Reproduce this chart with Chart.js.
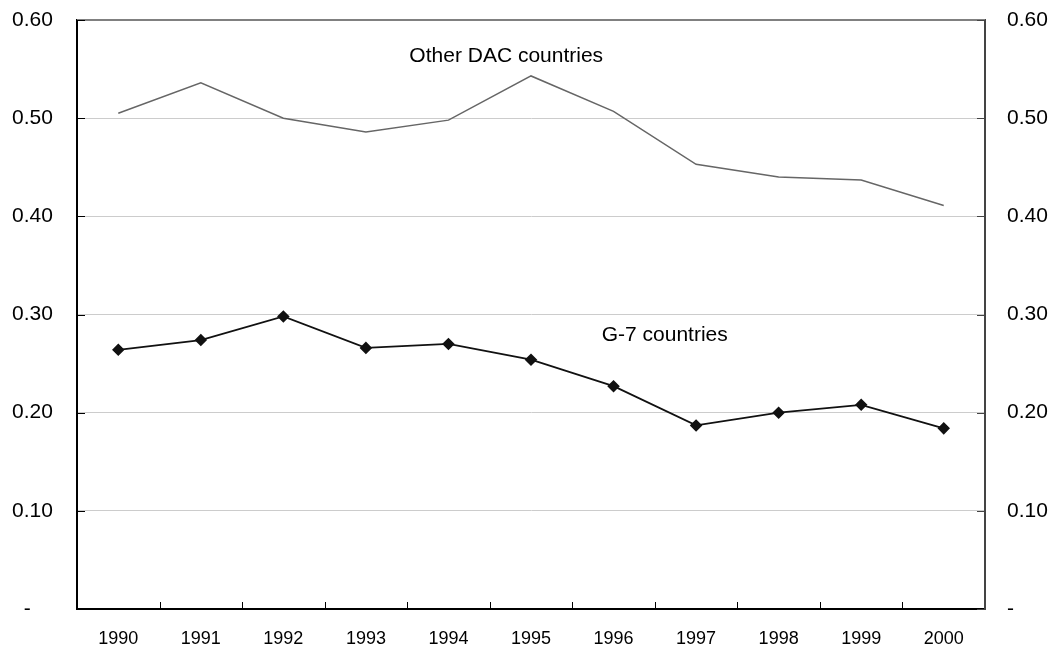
<!DOCTYPE html>
<html>
<head>
<meta charset="utf-8">
<script src="https://cdn.jsdelivr.net/npm/chart.js@4/dist/chart.umd.min.js"></script>
<style>
  html, body { margin: 0; padding: 0; background: #fff; overflow: hidden; }
  #wrap { width: 1056px; height: 650px; }
</style>
</head>
<body>
<div id="wrap"><canvas id="chart" width="1056" height="650"></canvas></div>
<script>
// Data
const years = ['1990', '1991', '1992', '1993', '1994', '1995', '1996', '1997', '1998', '1999', '2000'];
const otherDac = [0.505, 0.536, 0.500, 0.486, 0.498, 0.543, 0.507, 0.453, 0.440, 0.437, 0.411];
const g7 = [0.264, 0.274, 0.298, 0.266, 0.270, 0.254, 0.227, 0.187, 0.200, 0.208, 0.184];
const yTicks = [0, 0.1, 0.2, 0.3, 0.4, 0.5, 0.6];

// series labels written inside the plot (category index, value)
const seriesNotes = [
    { text: 'Other DAC countries', x: 4.7, y: 0.563 },
    { text: 'G-7 countries', x: 6.62, y: 0.279 }
];

const FONT = 'Liberation Sans, Arial, sans-serif';

// draws top border, inward tick marks and the series notes
const framePlugin = {
    id: 'frame',
    afterDraw(chart) {
        const ctx = chart.ctx;
        const area = chart.chartArea;
        const xs = chart.scales.x;
        const ys = chart.scales.y;
        ctx.save();

        // top border
        ctx.strokeStyle = '#808080';
        ctx.lineWidth = 2;
        ctx.beginPath();
        ctx.moveTo(area.left, area.top);
        ctx.lineTo(area.right, area.top);
        ctx.stroke();

        // x ticks between categories, pointing up
        ctx.strokeStyle = '#000';
        ctx.lineWidth = 1;
        for (let i = 1; i < years.length; i++) {
            const px = Math.round((xs.getPixelForValue(i - 1) + xs.getPixelForValue(i)) / 2) + 0.5;
            ctx.beginPath();
            ctx.moveTo(px, area.bottom);
            ctx.lineTo(px, area.bottom - 7);
            ctx.stroke();
        }

        // y ticks, inward on both sides
        yTicks.forEach(v => {
            const py = Math.round(ys.getPixelForValue(v)) + 0.5;
            ctx.strokeStyle = '#000';
            ctx.beginPath();
            ctx.moveTo(area.left, py);
            ctx.lineTo(area.left + 8, py);
            ctx.stroke();
            ctx.strokeStyle = '#444';
            ctx.beginPath();
            ctx.moveTo(area.right, py);
            ctx.lineTo(area.right - 8, py);
            ctx.stroke();
        });

        // notes
        ctx.fillStyle = '#000';
        ctx.font = '21px ' + FONT;
        ctx.textAlign = 'center';
        ctx.textBaseline = 'middle';
        seriesNotes.forEach(n => {
            ctx.fillText(n.text, xs.getPixelForValue(n.x), ys.getPixelForValue(n.y));
        });
        ctx.restore();
    }
};

function noOverflow(scale) {
    scale.paddingTop = 0;
    scale.paddingBottom = 0;
}

new Chart(document.getElementById('chart'), {
    type: 'line',
    data: {
        labels: years,
        datasets: [
            {
                label: 'Other DAC countries',
                data: otherDac,
                borderColor: '#666666',
                borderWidth: 1.5,
                pointRadius: 0,
                tension: 0
            },
            {
                label: 'G-7 countries',
                data: g7,
                borderColor: '#111111',
                backgroundColor: '#111111',
                borderWidth: 1.8,
                pointStyle: 'rectRot',
                pointRadius: 5,
                tension: 0
            }
        ]
    },
    options: {
        responsive: false,
        animation: false,
        layout: { padding: { left: 12, top: 20, right: 0, bottom: 0 } },
        plugins: {
            legend: { display: false },
            tooltip: { enabled: false }
        },
        scales: {
            x: {
                type: 'category',
                offset: true,
                grid: { display: false },
                border: { color: '#000', width: 2 },
                ticks: {
                    color: '#000',
                    font: { family: FONT, size: 18 },
                    padding: 11,
                    maxRotation: 0
                },
                afterFit(scale) {
                    scale.height = 41;
                    scale.paddingLeft = 0;
                    scale.paddingRight = 0;
                }
            },
            y: {
                position: 'left',
                min: 0,
                max: 0.6,
                afterBuildTicks(scale) { scale.ticks = yTicks.map(v => ({ value: v })); },
                grid: { color: '#cccccc', lineWidth: 1, drawTicks: false },
                border: { color: '#000', width: 2 },
                ticks: {
                    color: '#000',
                    font: { family: FONT, size: 21 },
                    crossAlign: 'far',
                    callback: v => v === 0 ? '  -' : v.toFixed(2)
                },
                afterFit(scale) { scale.width = 65; noOverflow(scale); }
            },
            y2: {
                position: 'right',
                min: 0,
                max: 0.6,
                afterBuildTicks(scale) { scale.ticks = yTicks.map(v => ({ value: v })); },
                grid: { display: false, drawTicks: false },
                border: { color: '#444', width: 2 },
                ticks: {
                    color: '#000',
                    font: { family: FONT, size: 21 },
                    padding: 22,
                    callback: v => v === 0 ? '-' : v.toFixed(2)
                },
                afterFit(scale) { scale.width = 71; noOverflow(scale); }
            }
        }
    },
    plugins: [framePlugin]
});
</script>
</body>
</html>
